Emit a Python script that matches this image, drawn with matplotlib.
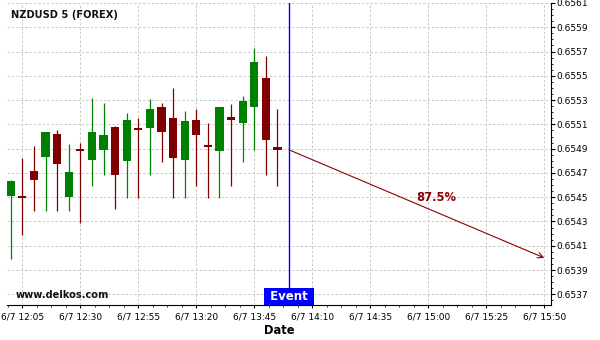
import pandas as pd
import numpy as np
import matplotlib
matplotlib.use('Agg')
import matplotlib.pyplot as plt
import matplotlib.dates as mdates
from matplotlib.ticker import FixedLocator, AutoMinorLocator, FormatStrFormatter
from matplotlib.transforms import blended_transform_factory

# 5 minute candles, NZDUSD
times = ['12:00', '12:05', '12:10', '12:15', '12:20', '12:25', '12:30', '12:35',
         '12:40', '12:45', '12:50', '12:55', '13:00', '13:05', '13:10', '13:15',
         '13:20', '13:25', '13:30', '13:35', '13:40', '13:45', '13:50', '13:55']
opens = [0.65451, 0.65451, 0.65472, 0.65483, 0.65502, 0.65450, 0.65490, 0.65481,
         0.65489, 0.65508, 0.65480, 0.65507, 0.65507, 0.65524, 0.65515, 0.65481,
         0.65514, 0.65493, 0.65488, 0.65516, 0.65511, 0.65524, 0.65548, 0.65491]
highs = [0.65464, 0.65482, 0.65492, 0.65504, 0.65505, 0.65494, 0.65495, 0.65532,
         0.65528, 0.65509, 0.65519, 0.65515, 0.65531, 0.65528, 0.65540, 0.65521,
         0.65523, 0.65511, 0.65524, 0.65527, 0.65533, 0.65573, 0.65566, 0.65523]
lows = [0.65399, 0.65419, 0.65439, 0.65439, 0.65439, 0.65439, 0.65429, 0.65459,
        0.65468, 0.65440, 0.65449, 0.65449, 0.65468, 0.65479, 0.65449, 0.65449,
        0.65459, 0.65449, 0.65449, 0.65459, 0.65479, 0.65489, 0.65468, 0.65459]
closes = [0.65463, 0.65449, 0.65464, 0.65504, 0.65477, 0.65471, 0.65488, 0.65504,
          0.65501, 0.65468, 0.65514, 0.65505, 0.65523, 0.65504, 0.65482, 0.65513,
          0.65501, 0.65491, 0.65524, 0.65514, 0.65529, 0.65561, 0.65497, 0.65489]

event_time = '14:00'
target_time = '15:50'
target_price = 0.6540
probability = '87.5%'

tick_times = ['12:05', '12:30', '12:55', '13:20', '13:45', '14:10', '14:35', '15:00', '15:25', '15:50']
tick_labels = ['6/7 ' + t for t in tick_times]
price_ticks = [0.6537, 0.6539, 0.6541, 0.6543, 0.6545, 0.6547, 0.6549,
               0.6551, 0.6553, 0.6555, 0.6557, 0.6559, 0.6561]

day = '2023-06-07 '
def to_num(t):
    return mdates.date2num(pd.Timestamp(day + t))

x = np.array([to_num(t) for t in times])
o = np.array(opens)
h = np.array(highs)
l = np.array(lows)
c = np.array(closes)
minute = 1.0 / (24 * 60)

up_col = '#008000'
down_col = '#800000'
colors = [up_col if cc >= oo else down_col for oo, cc in zip(o, c)]

fig = plt.figure(figsize=(6, 3.4), dpi=100)
ax = fig.add_axes([7 / 600, 35 / 340, 544 / 600, 302 / 340])

ax.vlines(x, l, h, colors=colors, linewidth=0.9, zorder=2)
ax.bar(x, np.abs(c - o), bottom=np.minimum(o, c), width=3.6 * minute,
       color=colors, linewidth=0, zorder=3)

ev = to_num(event_time)
ax.axvline(ev, color='#0000ff', linewidth=1, zorder=4)

# prediction arrow
ax.annotate('', xy=(to_num(target_time), target_price), xytext=(ev, c[-1]),
            arrowprops=dict(arrowstyle='->', color='#8B0000', lw=0.8,
                            mutation_scale=10, shrinkA=0, shrinkB=0), zorder=4)
mid_x = (ev + to_num(target_time)) / 2
mid_y = (c[-1] + target_price) / 2
ax.text(mid_x, mid_y, probability, color='#8B0000', fontsize=8.3, fontweight='bold',
        ha='left', va='bottom', zorder=5)

trans = blended_transform_factory(ax.transData, ax.transAxes)
ax.text(ev, 0.029, ' Event ', transform=trans, color='white', fontsize=8.5,
        fontweight='bold', ha='center', va='center', zorder=6,
        bbox=dict(boxstyle='square,pad=0.15', facecolor='#0000ff', edgecolor='none'))

ax.text(0.0074, 0.96, 'NZDUSD 5 (FOREX)', transform=ax.transAxes, fontsize=7.1,
        fontweight='bold', ha='left', va='center', color='#111111')
ax.text(0.0165, 0.033, 'www.delkos.com', transform=ax.transAxes, fontsize=7.1,
        fontweight='bold', ha='left', va='center', color='#111111')

ax.set_xlim(to_num('11:58') + 0.4 * minute, to_num('15:52') + 0.9 * minute)
ax.set_ylim(0.653612, 0.6561)

ax.xaxis.set_major_locator(FixedLocator([to_num(t) for t in tick_times]))
ax.set_xticklabels(tick_labels)
ax.xaxis.set_minor_locator(AutoMinorLocator(4))
ax.yaxis.set_major_locator(FixedLocator(price_ticks))
ax.yaxis.set_minor_locator(AutoMinorLocator(4))
ax.yaxis.set_major_formatter(FormatStrFormatter('%.4f'))
ax.yaxis.tick_right()

ax.tick_params(axis='x', which='major', length=2.5, pad=3, labelsize=6.5)
ax.tick_params(axis='x', which='minor', length=1.5)
ax.tick_params(axis='y', which='major', length=3, pad=1, labelsize=6.5)
ax.tick_params(axis='y', which='minor', length=1.5)

ax.spines['left'].set_visible(False)
ax.spines['top'].set_visible(False)

ax.set_axisbelow(True)
ax.grid(True, which='major', color='#c8c8c8', linestyle=(0, (2.5, 2)), linewidth=0.7)

ax.set_xlabel('Date', fontsize=8.3, fontweight='bold', labelpad=2)

fig.savefig('out.png', dpi=100)
